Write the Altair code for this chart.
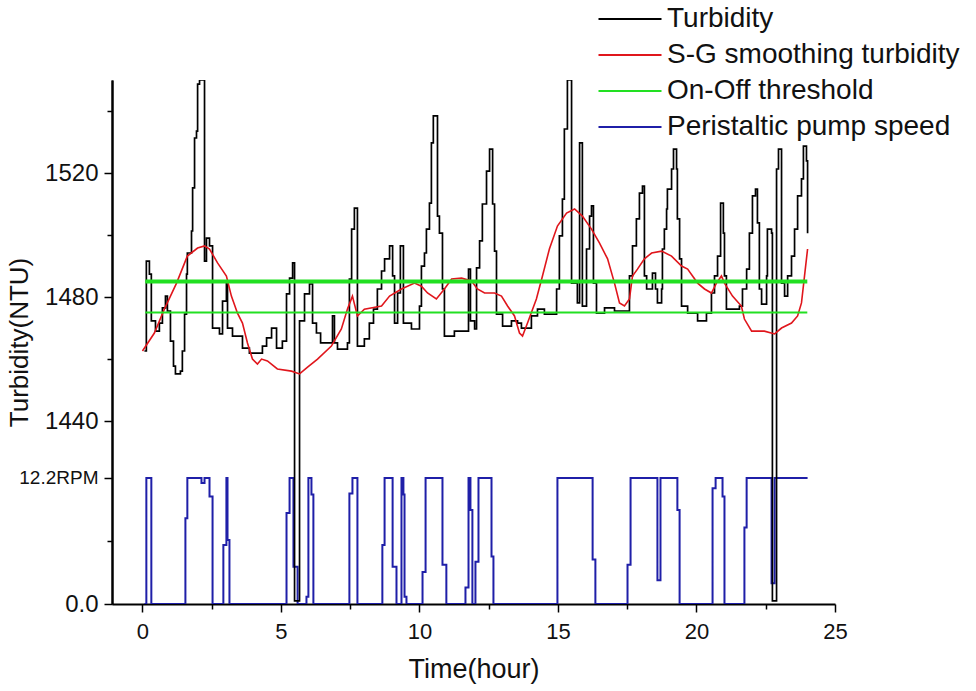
import altair as alt
import pandas as pd

FONT = "Liberation Sans"

# ---------------- data ----------------
turb_time = [0.07, 0.14, 0.25, 0.32, 0.47, 0.61, 0.72, 0.83, 0.90, 1.01,
             1.12, 1.19, 1.37, 1.44, 1.52, 1.59, 1.62, 1.77, 1.81, 1.88,
             1.95, 1.99, 2.06, 2.24, 2.31, 2.42, 2.53, 2.78, 2.89, 3.03,
             3.07, 3.25, 3.61, 3.86, 4.33, 4.48, 4.66, 4.84, 5.05, 5.20,
             5.31, 5.42, 5.49, 5.67, 5.85, 6.03, 6.14, 6.28, 6.43, 6.86,
             6.93, 7.04, 7.40, 7.47, 7.55, 7.65, 7.76, 8.01, 8.19, 8.34,
             8.48, 8.63, 8.74, 8.92, 9.03, 9.10, 9.21, 9.31, 9.42, 9.71,
             10.00, 10.07, 10.18, 10.25, 10.36, 10.43, 10.50, 10.65, 10.72, 10.83,
             10.90, 11.26, 11.77, 11.84, 11.99, 12.06, 12.17, 12.27, 12.42, 12.53,
             12.64, 12.71, 12.78, 13.00, 13.32, 13.54, 13.68, 14.04, 14.26, 14.51,
             14.95, 15.05, 15.16, 15.23, 15.34, 15.49, 15.70, 15.78, 15.88, 16.03,
             16.14, 16.21, 16.28, 16.39, 16.68, 17.04, 17.58, 17.69, 17.83, 17.94,
             18.05, 18.12, 18.20, 18.41, 18.52, 18.59, 18.74, 18.77, 18.84, 18.92,
             18.95, 19.10, 19.17, 19.28, 19.31, 19.39, 19.46, 19.68, 20.04, 20.36,
             20.54, 20.65, 20.76, 20.87, 20.97, 21.01, 21.08, 21.55, 21.66, 21.81,
             21.91, 22.02, 22.13, 22.20, 22.27, 22.35, 22.53, 22.56, 22.71, 22.74,
             22.89, 22.96, 23.07, 23.18, 23.29, 23.43, 23.54, 23.65, 23.79, 23.86,
             23.97, 24.01]
turb_ntu = [1462.6, 1491.6, 1487.4, 1472.3, 1469.0, 1471.6, 1476.5, 1480.3, 1475.5, 1465.8,
            1457.7, 1455.2, 1456.1, 1462.6, 1474.5, 1487.4, 1494.2, 1501.3, 1515.2, 1531.3,
            1533.5, 1548.7, 1550.0, 1491.6, 1499.0, 1496.5, 1470.0, 1468.1, 1478.7, 1485.2,
            1470.0, 1467.4, 1463.5, 1461.9, 1464.2, 1466.8, 1470.0, 1463.5, 1465.8, 1481.0,
            1486.1, 1491.0, 1382.0, 1472.3, 1481.0, 1484.2, 1471.6, 1468.4, 1465.2, 1473.9,
            1465.2, 1463.2, 1465.2, 1485.8, 1501.9, 1508.7, 1464.2, 1466.5, 1471.6, 1476.1,
            1482.6, 1488.4, 1492.3, 1496.5, 1486.8, 1471.6, 1481.3, 1496.5, 1471.6, 1469.7,
            1477.1, 1490.0, 1494.2, 1501.9, 1510.3, 1529.7, 1538.4, 1506.1, 1500.6, 1482.6,
            1467.4, 1469.0, 1489.0, 1472.3, 1469.7, 1489.4, 1498.1, 1510.0, 1520.6, 1527.7,
            1510.0, 1494.8, 1474.5, 1470.6, 1472.3, 1471.6, 1470.0, 1473.9, 1476.1, 1474.5,
            1482.6, 1499.7, 1511.6, 1534.2, 1550.0, 1484.5, 1478.1, 1529.7, 1477.1, 1495.5,
            1506.1, 1509.4, 1484.5, 1474.8, 1476.5, 1475.5, 1486.8, 1496.5, 1505.2, 1513.5,
            1515.8, 1486.8, 1482.6, 1487.7, 1482.6, 1478.1, 1482.6, 1495.5, 1501.9, 1508.4,
            1514.8, 1521.3, 1527.7, 1521.3, 1505.2, 1492.3, 1477.1, 1474.8, 1472.3, 1474.8,
            1481.3, 1486.8, 1493.2, 1510.3, 1500.6, 1486.8, 1476.1, 1477.1, 1482.6, 1489.0,
            1500.6, 1512.6, 1514.8, 1503.9, 1482.6, 1477.7, 1486.8, 1501.9, 1500.6, 1382.0,
            1521.3, 1527.7, 1484.5, 1480.3, 1486.8, 1493.2, 1501.9, 1512.6, 1518.1, 1528.7,
            1523.9, 1500.6]

sg_time = [0.00, 0.43, 0.79, 1.23, 1.62, 1.99, 2.24, 2.42, 2.71, 3.03,
           3.21, 3.43, 3.61, 3.79, 3.97, 4.15, 4.30, 4.51, 4.87, 5.38,
           5.67, 5.96, 6.32, 6.82, 7.18, 7.40, 7.58, 7.76, 8.01, 8.63,
           8.92, 9.35, 9.82, 10.07, 10.29, 10.61, 10.90, 11.16, 11.52, 11.88,
           12.09, 12.35, 12.71, 12.96, 13.18, 13.43, 13.61, 13.72, 13.90, 14.22,
           14.44, 14.69, 14.98, 15.31, 15.60, 15.88, 16.21, 16.50, 16.79, 17.04,
           17.22, 17.40, 17.58, 17.69, 17.87, 18.12, 18.38, 18.74, 19.10, 19.46,
           19.68, 20.04, 20.29, 20.54, 20.72, 20.90, 21.01, 21.30, 21.62, 21.73,
           21.99, 22.45, 22.82, 23.07, 23.43, 23.65, 23.79, 23.90, 24.01]
sg_ntu = [1462.6, 1468.4, 1476.1, 1484.5, 1493.2, 1495.8, 1496.5, 1495.5, 1491.0, 1486.8,
          1480.3, 1474.8, 1471.6, 1465.2, 1460.0, 1458.4, 1460.0, 1459.4, 1456.8, 1456.1,
          1455.2, 1457.4, 1460.0, 1464.2, 1469.7, 1476.1, 1480.3, 1473.9, 1476.1, 1477.1,
          1480.3, 1482.6, 1484.5, 1483.5, 1481.3, 1479.4, 1482.6, 1485.8, 1486.1, 1485.2,
          1482.6, 1481.3, 1481.3, 1480.3, 1477.1, 1473.9, 1468.4, 1467.4, 1471.6, 1479.4,
          1486.8, 1495.5, 1502.9, 1507.1, 1508.4, 1506.1, 1501.9, 1497.4, 1492.3, 1484.5,
          1478.1, 1477.1, 1479.4, 1486.8, 1489.0, 1492.3, 1494.2, 1494.8, 1493.2, 1490.0,
          1489.0, 1484.5, 1482.6, 1481.3, 1484.5, 1486.8, 1484.5, 1480.3, 1477.1, 1472.9,
          1469.0, 1469.0, 1468.1, 1470.0, 1471.6, 1473.9, 1478.1, 1486.8, 1495.5]

pump_time = [0.07, 0.14, 0.32, 1.55, 1.62, 2.13, 2.24, 2.42, 2.53, 2.92,
             3.03, 3.07, 3.14, 5.20, 5.31, 5.45, 5.60, 5.92, 5.99, 6.10,
             6.17, 7.47, 7.58, 7.76, 8.66, 8.74, 9.03, 9.17, 9.35, 9.42,
             9.46, 9.53, 10.11, 10.22, 10.83, 10.97, 11.66, 11.77, 11.84, 11.91,
             12.02, 12.13, 12.60, 12.67, 14.98, 16.25, 16.35, 17.51, 17.62, 18.59,
             18.70, 19.31, 19.39, 20.58, 20.69, 20.94, 21.01, 21.73, 21.81, 22.71,
             22.82, 24.01]
pump_rpm = [0, 12.2, 0, 8.3, 12.2, 11.7, 12.2, 10.4, 0, 5.7,
            12.2, 6.2, 0, 8.8, 12.2, 3.6, 0, 0.7, 12.2, 10.6,
            0, 10.7, 12.2, 0, 5.7, 12.2, 3.6, 0, 12.2, 10.6,
            0.7, 0, 3.1, 12.2, 3.8, 0, 1.6, 12.2, 9.1, 0,
            4.1, 12.2, 4.6, 0, 12.2, 4.3, 0, 3.8, 12.2, 2.3,
            12.2, 9.1, 0, 11.2, 12.2, 10.4, 0, 7.4, 12.2, 2.0,
            12.2, 12.2]

threshold_on = [1485]
threshold_off = [1475]
threshold_span = [0.1, 24.0]

series_names = ["Turbidity", "S-G smoothing turbidity", "On-Off threshold",
                "Peristaltic pump speed"]
series_colors = ["#000000", "#e0161c", "#22e022", "#1f1fa8"]

x_ticks = [0, 2.5, 5, 7.5, 10, 12.5, 15, 17.5, 20, 22.5, 25]
ntu_ticks = [1440, 1460, 1480, 1500, 1520, 1540]
rpm_ticks = [0, 6.1, 12.2]
rpm_tick_labels = ["0.0", "", "12.2RPM"]

x_domain = [-1.1, 25]
ntu_domain = [1381, 1550]
rpm_domain = [0, 50.7]

# ---------------- tables ----------------
turb_df = pd.DataFrame({"time": turb_time, "ntu": turb_ntu, "series": series_names[0]})
sg_df = pd.DataFrame({"time": sg_time, "ntu": sg_ntu, "series": series_names[1]})
on_df = pd.DataFrame({"time": [threshold_span[0]], "time2": [threshold_span[1]],
                      "ntu": threshold_on, "series": series_names[2]})
off_df = pd.DataFrame({"time": [threshold_span[0]], "time2": [threshold_span[1]],
                       "ntu": threshold_off, "series": series_names[2]})
pump_df = pd.DataFrame({"time": pump_time, "rpm": pump_rpm, "series": series_names[3]})

# ---------------- encodings ----------------
x_axis = alt.Axis(
    values=x_ticks, format="~g",
    labelExpr="datum.value % 5 === 0 ? datum.label : ''",
    tickSize={"condition": {"test": "datum.value % 5 === 0", "value": 8}, "value": 5},
    title="Time(hour)", labelFlush=False, labelOverlap=False,
    labelFontSize=22, labelPadding=9, titleFontSize=27, titlePadding=14,
)
x_enc = alt.X("time:Q", scale=alt.Scale(domain=x_domain, nice=False, zero=False), axis=x_axis)

ntu_axis = alt.Axis(
    values=ntu_ticks, format="d", orient="left",
    labelExpr="datum.value % 40 === 0 ? datum.label : ''",
    tickSize={"condition": {"test": "datum.value % 40 === 0", "value": 8}, "value": 5},
    title="Turbidity(NTU)", labelFontSize=24, labelPadding=6, labelOverlap=False,
    titleFontSize=26, titlePadding=12, labelFlush=False,
)
y_ntu = alt.Y("ntu:Q", scale=alt.Scale(domain=ntu_domain, nice=False, zero=False), axis=ntu_axis)

label_expr = " : ".join(
    f"datum.value === {v} ? '{lab}'" for v, lab in zip(rpm_ticks, rpm_tick_labels)
) + " : ''"
rpm_axis = alt.Axis(
    values=rpm_ticks, orient="left", title=None, labelExpr=label_expr,
    labelFontSize={"condition": {"test": f"datum.value === {rpm_ticks[2]}", "value": 19}, "value": 24},
    tickSize={"condition": {"test": f"datum.value === {rpm_ticks[1]}", "value": 5}, "value": 8},
    labelPadding=6, labelOverlap=False, labelFlush=False,
)
y_rpm = alt.Y("rpm:Q", scale=alt.Scale(domain=rpm_domain, nice=False, zero=False), axis=rpm_axis)

legend = alt.Legend(
    title=None, orient="none", legendX=483, legendY=-75,
    symbolType="M-1,0H5", symbolSize=441, symbolStrokeWidth=2,
    labelFontSize=28, labelFont=FONT, labelColor="#111", labelOffset=44,
    labelLimit=0, rowPadding=8, padding=0,
)
color = alt.Color("series:N", scale=alt.Scale(domain=series_names, range=series_colors),
                  legend=legend)

# ---------------- layers ----------------
pump = alt.Chart(pump_df).mark_line(interpolate="step-after", strokeWidth=2, clip=True).encode(
    x=x_enc, y=y_rpm, color=color)

turb = alt.Chart(turb_df).mark_line(interpolate="step-after", strokeWidth=1.7, clip=True).encode(
    x=x_enc, y=y_ntu, color=color)

sg = alt.Chart(sg_df).mark_line(strokeWidth=1.6, clip=True).encode(
    x=x_enc, y=y_ntu, color=color)

thr_on = alt.Chart(on_df).mark_rule(strokeWidth=4).encode(
    x=x_enc, x2="time2:Q", y=y_ntu, color=color)

thr_off = alt.Chart(off_df).mark_rule(strokeWidth=2).encode(
    x=x_enc, x2="time2:Q", y=y_ntu, color=color)

turb_group = alt.layer(turb, sg, thr_on, thr_off)

chart = alt.layer(pump, turb_group).resolve_scale(y="independent").properties(
    width=723, height=524,
    autosize=alt.AutoSizeParams(type="none"),
    padding={"left": 112, "top": 80, "right": 141, "bottom": 87},
    background="white",
).configure_view(stroke=None).configure_axis(
    grid=False, domainColor="#000", domainWidth=2, tickColor="#000", tickWidth=1.5,
    labelFont=FONT, titleFont=FONT, labelColor="#111", titleColor="#111",
    titleFontWeight="normal",
)

chart.save("out.html", embed_options={"renderer": "svg", "actions": False})
